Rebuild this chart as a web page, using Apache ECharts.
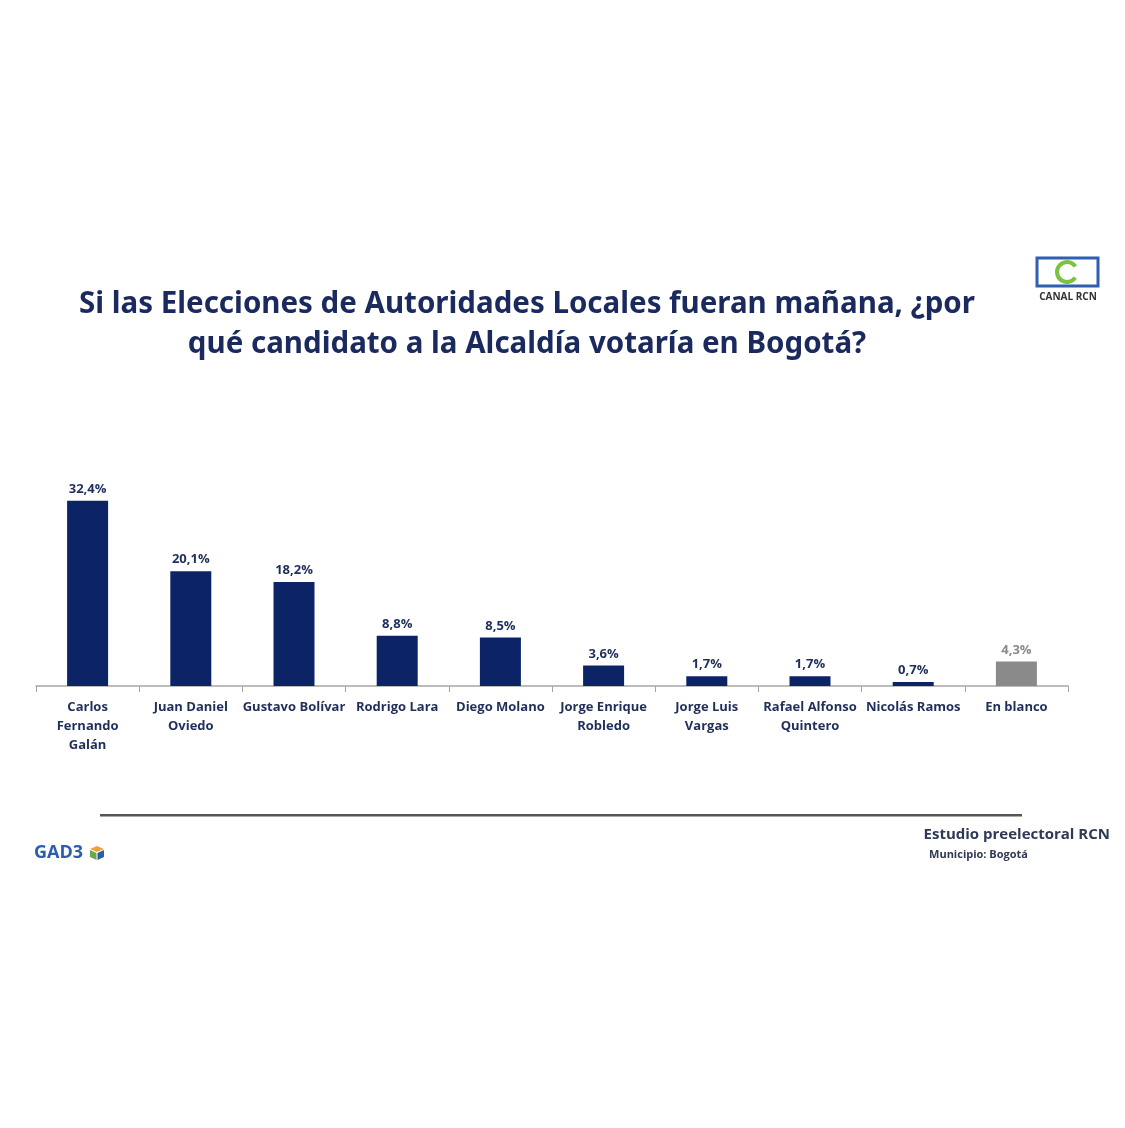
<!DOCTYPE html>
<html>
<head>
<meta charset="utf-8">
<script src="https://cdn.jsdelivr.net/npm/echarts@6/dist/echarts.min.js"></script>
<style>html,body{margin:0;padding:0;background:#fff}#c{width:1125px;height:1128px}</style>
</head>
<body>
<div id="c"></div>
<script>
const categories = ['Carlos\nFernando\nGalán','Juan Daniel\nOviedo','Gustavo Bolívar','Rodrigo Lara','Diego Molano','Jorge Enrique\nRobledo','Jorge Luis\nVargas','Rafael Alfonso\nQuintero','Nicolás Ramos','En blanco'];
const values = [32.4, 20.1, 18.2, 8.8, 8.5, 3.6, 1.7, 1.7, 0.7, 4.3];
const valueLabels = ['32,4%','20,1%','18,2%','8,8%','8,5%','3,6%','1,7%','1,7%','0,7%','4,3%'];
const titleLines = ['Si las Elecciones de Autoridades Locales fueran mañana, ¿por', 'qué candidato a la Alcaldía votaría en Bogotá?'];

const NAVY = '#0c2466';
const GRAY = '#8a8a8a';
const chart = echarts.init(document.getElementById('c'));
const labelFont = '"Open Sans",sans-serif';

chart.setOption({
  backgroundColor: '#ffffff',
  animation: false,
  grid: { left: 36, right: 57, top: 486, bottom: 442, containLabel: false },
  xAxis: {
    type: 'category',
    data: categories,
    axisLine: { lineStyle: { color: '#a6a6a6', width: 1.5 } },
    axisTick: { show: true, length: 6, lineStyle: { color: '#a6a6a6' } },
    axisLabel: { interval: 0, color: '#1f2f5a', fontWeight: 'bold', fontSize: 13, lineHeight: 19, margin: 12, fontFamily: labelFont }
  },
  yAxis: { type: 'value', min: 0, max: 35, show: false, splitLine: { show: false } },
  series: [{
    type: 'bar',
    barWidth: 41,
    data: values.map((v, i) => ({
      value: v,
      itemStyle: { color: i === values.length - 1 ? GRAY : NAVY },
      label: { color: i === values.length - 1 ? GRAY : '#1f2f5a' }
    })),
    label: {
      show: true, position: 'top', distance: 5,
      fontWeight: 'bold', fontSize: 13, fontFamily: labelFont,
      formatter: p => valueLabels[p.dataIndex]
    }
  }],
  graphic: [
    { type: 'text', x: 527, y: 285, style: { text: titleLines.join('\n'), align: 'center', verticalAlign: 'top', font: 'bold 29.5px "Noto Sans",sans-serif', lineHeight: 40, fill: '#1b2a5e' } },
    { type: 'rect', shape: { x: 100, y: 814, width: 922, height: 2.5 }, style: { fill: '#555555' } },
    { type: 'text', style: { text: 'Estudio preelectoral RCN', x: 1110, y: 827, align: 'right', font: 'bold 15px ' + labelFont, fill: '#2e3a55' } },
    { type: 'text', style: { text: 'Municipio: Bogotá', x: 1028, y: 849, align: 'right', font: 'bold 11px ' + labelFont, fill: '#2e3a55' } },
    { type: 'text', style: { text: 'GAD3', x: 34, y: 844, font: 'bold 18px "Open Sans",sans-serif', fill: '#2a5db0' } },
    { type: 'polygon', shape: { points: [[97,846],[104,849],[97,852],[90,849]] }, style: { fill: '#e8a23a' } },
    { type: 'polygon', shape: { points: [[90,850],[96.5,853],[96.5,860],[90,857]] }, style: { fill: '#6aa84f' } },
    { type: 'polygon', shape: { points: [[97.5,853],[104,850],[104,857],[97.5,860]] }, style: { fill: '#2a5db0' } },
    { type: 'rect', shape: { x: 1037, y: 258, width: 61, height: 28 }, style: { fill: 'none', stroke: '#2f5fb0', lineWidth: 3 } },
    { type: 'arc', shape: { cx: 1067, cy: 272, r: 10, startAngle: 0.6, endAngle: 5.7 }, style: { stroke: '#7cc242', lineWidth: 4, fill: 'none' } },
    { type: 'text', style: { text: 'CANAL RCN', x: 1068, y: 292, align: 'center', font: 'bold 10px "Open Sans",sans-serif', fill: '#333333' } }
  ]
});
</script>
</body>
</html>
